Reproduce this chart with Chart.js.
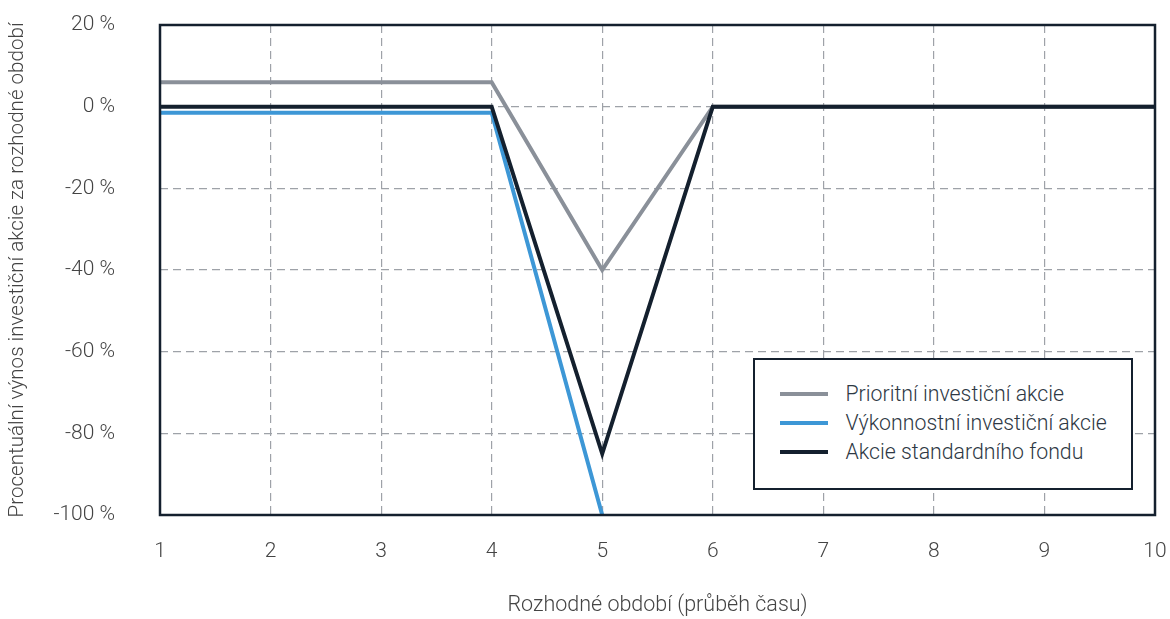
<!DOCTYPE html>
<html lang="cs">
  <head>
    <meta charset="UTF-8" />
    <title>Procentuální výnos</title>
    <script src="https://cdn.jsdelivr.net/npm/chart.js@4.4.1/dist/chart.umd.min.js"></script>
    <style>
      html, body { margin: 0; padding: 0; background: #fff; }
      .wrap { position: relative; width: 1170px; height: 619px; }
      .legend {
        position: absolute; left: 753px; top: 358px; width: 380px; height: 132px;
        border: 2.5px solid #14202e; background: #fff;
        font-family: Roboto, sans-serif; font-weight: 300; font-size: 21.3px; color: #2e3844;
        box-sizing: border-box; padding-top: 19px;
      }
      .legend div { height: 29px; display: flex; align-items: center; }
      .legend span.swatch { display: inline-block; width: 48px; height: 4px; margin-left: 24.5px; margin-right: 18px; }
    </style>
  </head>
  <body>
    <div class="wrap">
      <canvas id="chart" width="1170" height="619"></canvas>
      <div class="legend" id="legend"></div>
    </div>
    <script>
      const periods = [1, 2, 3, 4, 5, 6, 7, 8, 9, 10];
      const prioritni = [6, 6, 6, 6, -40, 0, 0, 0, 0, 0];
      const vykonnostni = [-1.5, -1.5, -1.5, -1.5, -100, null, null, null, null, null];
      const standardni = [0, 0, 0, 0, -85, 0, 0, 0, 0, 0];
      const yTicks = [20, 0, -20, -40, -60, -80, -100];

      const series = [
        { label: 'Prioritní investiční akcie', data: prioritni, color: '#8a9099', order: 2 },
        { label: 'Výkonnostní investiční akcie', data: vykonnostni, color: '#3d97d6', order: 1 },
        { label: 'Akcie standardního fondu', data: standardni, color: '#14202e', order: 0 },
      ];

      // dark box round the plot area
      const frame = {
        id: 'frame',
        afterDatasetsDraw(chart) {
          const a = chart.chartArea;
          const ctx = chart.ctx;
          ctx.save();
          ctx.strokeStyle = '#14202e';
          ctx.lineWidth = 2.5;
          ctx.strokeRect(a.left, a.top, a.right - a.left, a.bottom - a.top);
          ctx.restore();
        },
      };

      const font = { family: 'Roboto, sans-serif', size: 21, weight: 300 };
      const titleFont = { family: 'Roboto, sans-serif', size: 21.5, weight: 300 };
      const yTitleFont = { family: 'Roboto, sans-serif', size: 20.6, weight: 300 };

      new Chart(document.getElementById('chart'), {
        type: 'line',
        data: {
          datasets: series.map((s) => ({
            label: s.label,
            data: s.data.map((v, i) => ({ x: periods[i], y: v })),
            borderColor: s.color,
            backgroundColor: s.color,
            borderWidth: 4,
            pointRadius: 0,
            tension: 0,
            order: s.order,
            spanGaps: false,
          })),
        },
        options: {
          responsive: false,
          animation: false,
          layout: { padding: { top: 25, right: 15, bottom: 0, left: 0 } },
          plugins: { legend: { display: false }, tooltip: { enabled: false } },
          scales: {
            x: {
              type: 'linear',
              min: 1,
              max: 10,
              afterFit: (s) => {
                s.height = 104;
                s.paddingLeft = 0;
                s.paddingRight = 0;
              },
              afterBuildTicks: (s) => { s.ticks = periods.map((v) => ({ value: v })); },
              ticks: { font: font, color: '#444', padding: 24 },
              grid: { color: '#9ea2a8', lineWidth: 1.2, drawTicks: false },
              border: { display: false, dash: [8, 5] },
              title: {
                display: true,
                text: 'Rozhodné období (průběh času)',
                font: titleFont,
                color: '#444',
                padding: { top: 20, bottom: 0 },
              },
            },
            y: {
              min: -100,
              max: 20,
              afterFit: (s) => {
                s.width = 160;
                s.paddingTop = 0;
                s.paddingBottom = 0;
              },
              afterBuildTicks: (s) => { s.ticks = yTicks.map((v) => ({ value: v })); },
              ticks: { font: font, color: '#444', padding: 45, callback: (v) => v + ' %' },
              grid: { color: '#9ea2a8', lineWidth: 1.2, drawTicks: false },
              border: { display: false, dash: [8, 5] },
              title: {
                display: true,
                text: 'Procentuální výnos investiční akcie za rozhodné období',
                font: yTitleFont,
                color: '#444',
                padding: { top: 5, bottom: 0 },
              },
            },
          },
        },
        plugins: [frame],
      });

      const legendEl = document.getElementById('legend');
      series.forEach((s) => {
        const row = document.createElement('div');
        row.innerHTML = '<span class="swatch" style="background:' + s.color + '"></span>' + s.label;
        legendEl.appendChild(row);
      });
    </script>
  </body>
</html>
